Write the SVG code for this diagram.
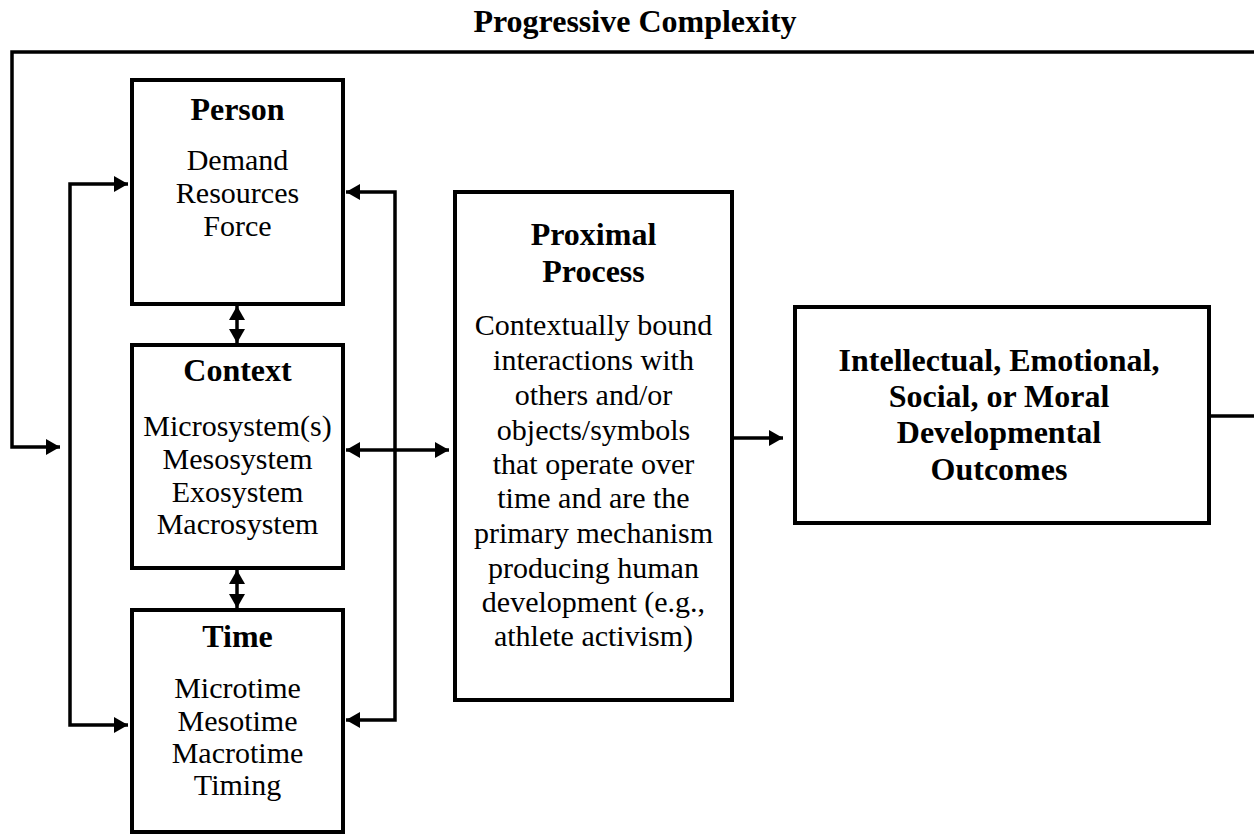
<svg xmlns="http://www.w3.org/2000/svg" width="1254" height="834" viewBox="0 0 1254 834">
<style>
.box{fill:#fff;stroke:#000;stroke-width:4}
.conn{fill:none;stroke:#000;stroke-width:3.5}
.t{font-family:"Liberation Serif","Times New Roman",serif;font-size:30px;fill:#000;text-anchor:middle}
.b{font-family:"Liberation Serif","Times New Roman",serif;font-size:32px;font-weight:bold;fill:#000;text-anchor:middle}
</style>
<defs>
<marker id="ah" markerUnits="userSpaceOnUse" markerWidth="14" markerHeight="16" refX="14" refY="8" orient="auto-start-reverse">
<path d="M0,0 L14,8 L0,16 z" fill="#000"/>
</marker>
</defs>
<rect width="1254" height="834" fill="#fff"/>
<text class="b" x="635" y="32">Progressive Complexity</text>
<g id="connectors">
<path class="conn" d="M1209,416 H1257 V52 H12 V447 H60" marker-end="url(#ah)"/>
<path class="conn" d="M128,184 H70 V725 H128" marker-start="url(#ah)" marker-end="url(#ah)"/>
<path class="conn" d="M346,192 H395 V720 H346" marker-start="url(#ah)" marker-end="url(#ah)"/>
<path class="conn" d="M237,306 V343" marker-start="url(#ah)" marker-end="url(#ah)"/>
<path class="conn" d="M237,570 V608" marker-start="url(#ah)" marker-end="url(#ah)"/>
<path class="conn" d="M346,450 H449" marker-start="url(#ah)" marker-end="url(#ah)"/>
<path class="conn" d="M732,438 H783" marker-end="url(#ah)"/>
</g>
<g id="person">
<rect class="box" x="132" y="80" width="211" height="224"/>
<text class="b" x="237.5" y="120">Person</text>
<text class="t" x="237.5" y="170">Demand</text>
<text class="t" x="237.5" y="203">Resources</text>
<text class="t" x="237.5" y="236">Force</text>
</g>
<g id="context">
<rect class="box" x="132" y="345" width="211" height="223"/>
<text class="b" x="237.5" y="381">Context</text>
<text class="t" x="237.5" y="436">Microsystem(s)</text>
<text class="t" x="237.5" y="469">Mesosystem</text>
<text class="t" x="237.5" y="502">Exosystem</text>
<text class="t" x="237.5" y="534">Macrosystem</text>
</g>
<g id="time">
<rect class="box" x="132" y="610" width="211" height="222"/>
<text class="b" x="237.5" y="647">Time</text>
<text class="t" x="237.5" y="698">Microtime</text>
<text class="t" x="237.5" y="731">Mesotime</text>
<text class="t" x="237.5" y="763">Macrotime</text>
<text class="t" x="237.5" y="795">Timing</text>
</g>
<g id="proximal">
<rect class="box" x="455" y="192" width="277" height="508"/>
<text class="b" x="593.5" y="245">Proximal</text>
<text class="b" x="593.5" y="282">Process</text>
<text class="t" x="593.5" y="335">Contextually bound</text>
<text class="t" x="593.5" y="370">interactions with</text>
<text class="t" x="593.5" y="405">others and/or</text>
<text class="t" x="593.5" y="440">objects/symbols</text>
<text class="t" x="593.5" y="474">that operate over</text>
<text class="t" x="593.5" y="508">time and are the</text>
<text class="t" x="593.5" y="543">primary mechanism</text>
<text class="t" x="593.5" y="578">producing human</text>
<text class="t" x="593.5" y="612">development (e.g.,</text>
<text class="t" x="593.5" y="646">athlete activism)</text>
</g>
<g id="outcomes">
<rect class="box" x="795" y="307" width="414" height="216"/>
<text class="b" x="999" y="371">Intellectual, Emotional,</text>
<text class="b" x="999" y="407">Social, or Moral</text>
<text class="b" x="999" y="443">Developmental</text>
<text class="b" x="999" y="480">Outcomes</text>
</g>
</svg>
